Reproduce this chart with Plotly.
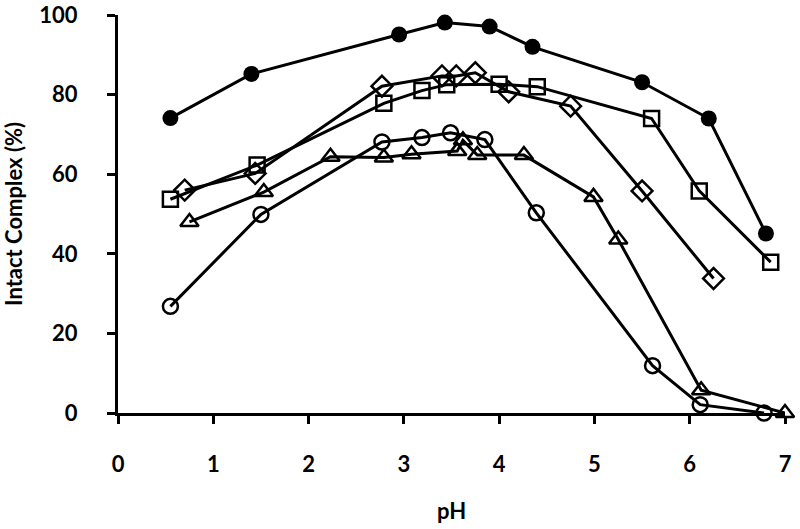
import plotly.graph_objects as go

# Filled circles
ph_fc = [0.55, 1.40, 2.95, 3.43, 3.90, 4.35, 5.50, 6.20, 6.80]
val_fc = [74.1, 85.2, 95.1, 98.1, 97.1, 92.0, 83.1, 74.0, 45.1]

# Open squares
ph_sq = [0.55, 1.46, 2.79, 3.19, 3.45, 4.00, 4.40, 5.60, 6.10, 6.85]
val_sq = [53.7, 62.3, 77.8, 81.0, 82.5, 82.6, 82.0, 74.0, 55.8, 37.9]

# Open diamonds
ph_di = [0.70, 1.44, 2.77, 3.40, 3.55, 3.75, 4.10, 4.75, 5.50, 6.25]
val_di = [56.0, 60.2, 82.1, 84.7, 84.7, 85.5, 80.7, 77.1, 55.8, 33.8]

# Open circles
ph_oc = [0.55, 1.50, 2.77, 3.19, 3.49, 3.85, 4.39, 5.61, 6.11, 6.78]
val_oc = [26.8, 49.9, 68.1, 69.2, 70.4, 68.7, 50.3, 11.9, 2.1, 0.0]

# Open triangles
ph_tr = [0.75, 1.53, 2.23, 2.79, 3.08, 3.56, 3.62, 3.77, 4.26, 4.99, 5.25, 6.12, 7.00]
val_tr = [48.0, 55.5, 64.4, 64.2, 65.0, 65.8, 68.5, 64.8, 64.8, 54.3, 43.6, 5.7, 0.0]

x_ticks = [0, 1, 2, 3, 4, 5, 6, 7]
y_ticks = [0, 20, 40, 60, 80, 100]

FONT = "Lato"
title_font = dict(family=FONT, size=22, color="black", weight="bold")

fig = go.Figure()

def add(x, y, symbol, size, lw):
    fig.add_trace(go.Scatter(
        x=x, y=y, mode="lines+markers",
        line=dict(color="black", width=3),
        marker=dict(symbol=symbol, size=size, color="black",
                    line=dict(color="black", width=lw)),
        cliponaxis=False, showlegend=False,
    ))

add(ph_oc, val_oc, "circle-open", 15, 2.5)
add(ph_tr, val_tr, "triangle-up-open", 16, 2.5)
add(ph_di, val_di, "diamond-open", 16, 2.5)
add(ph_sq, val_sq, "square-open", 15, 2.5)
add(ph_fc, val_fc, "circle", 16, 0)

axis_common = dict(
    showgrid=False, zeroline=False, showline=True,
    linecolor="black", linewidth=3,
    ticks="outside", ticklen=8, tickwidth=3, tickcolor="black",
    tickfont=dict(family=FONT, size=22, color="black", weight="bold"),
    automargin=False,
)

fig.update_layout(
    width=800, height=529,
    margin=dict(l=118, r=15, t=15, b=116),
    plot_bgcolor="white", paper_bgcolor="white",
    xaxis=dict(range=[0, 7], tickvals=x_ticks, ticktext=[str(v) for v in x_ticks],
               ticklabelstandoff=22,
               **axis_common),
    yaxis=dict(range=[0, 100], tickvals=y_ticks, ticktext=[str(v) for v in y_ticks],
               ticklabelstandoff=25,
               title=dict(text="Intact Complex (%)", font=title_font),
               **axis_common),
    annotations=[dict(text="pH", xref="paper", yref="paper", x=0.5, y=-0.246,
                      xanchor="center", yanchor="middle", showarrow=False,
                      font=title_font)],
)

fig.write_html("out.html", post_script="document.body.style.margin='0';",
               config={"displayModeBar": False})
